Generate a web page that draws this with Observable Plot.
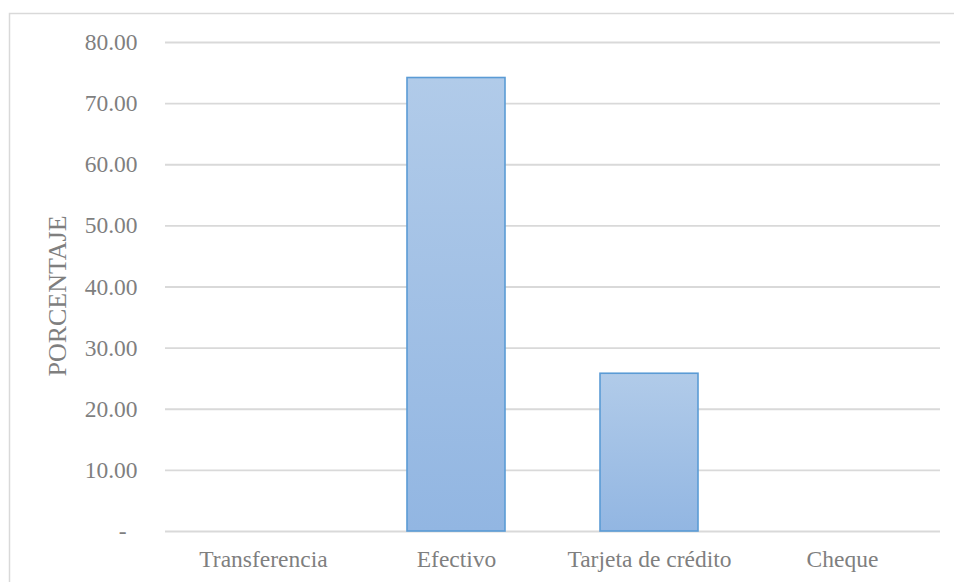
<!DOCTYPE html>
<html>
<head>
<meta charset="utf-8">
<script src="https://cdn.jsdelivr.net/npm/d3@7"></script>
<script src="https://cdn.jsdelivr.net/npm/@observablehq/plot@0.6"></script>
<style>
  html, body { margin: 0; padding: 0; background: #fff; }
  #chart { position: relative; width: 954px; height: 582px; overflow: hidden; }
</style>
</head>
<body>
<div id="chart"></div>
<script>
const categories = ["Transferencia", "Efectivo", "Tarjeta de crédito", "Cheque"];
const values = [0, 74.19, 25.81, 0];
const yTicks = [0, 10, 20, 30, 40, 50, 60, 70, 80];
const yLabel = "PORCENTAJE";

const data = categories.map((c, i) => ({category: c, value: values[i]}));
const textColor = "#7f7f7f";
const font = "'Liberation Serif', 'Times New Roman', serif";

const plot = Plot.plot({
  width: 954,
  height: 582,
  marginLeft: 165,
  marginRight: 14,
  marginTop: 42,
  marginBottom: 51,
  style: {fontFamily: font, fontSize: "23.5px", color: textColor, background: "#fff"},
  x: {domain: categories, paddingInner: 0.49, paddingOuter: 0.245, label: null},
  y: {domain: [0, 80], label: null},
  marks: [
    Plot.gridY(yTicks, {stroke: "#d9d9d9", strokeOpacity: 1, strokeWidth: 1.8}),
    Plot.barY(data.filter(d => d.value > 0), {
      x: "category", y: "value",
      fill: "url(#barGrad)", stroke: "#5b9bd5", strokeWidth: 1.6
    }),
    Plot.axisY(yTicks, {
      tickSize: 0, tickPadding: 28,
      tickFormat: d => d === 0 ? "-" : d.toFixed(2),
      fill: textColor, fontSize: 23.5
    }),
    Plot.axisX({tickSize: 0, tickPadding: 19, fill: textColor, fontSize: 23.5}),
    Plot.text([yLabel], {
      text: d => d, frameAnchor: "left", textAnchor: "middle",
      dx: -108, dy: 9, rotate: -90, fill: textColor, fontSize: 26, fontFamily: font
    })
  ]
});

const svg = d3.select(plot);
const defs = svg.insert("defs", ":first-child");
const grad = defs.append("linearGradient")
  .attr("id", "barGrad").attr("x1", 0).attr("y1", 0).attr("x2", 0).attr("y2", 1);
grad.append("stop").attr("offset", "0%").attr("stop-color", "#b1cbe9");
grad.append("stop").attr("offset", "100%").attr("stop-color", "#92b6e2");

// shift the zero dash like Excel's accounting format
svg.selectAll("text").filter(function() { return this.textContent === "-"; })
  .attr("dx", -11);

// chart area border
svg.append("rect")
  .attr("x", 9.5).attr("y", 13.5).attr("width", 960).attr("height", 600)
  .attr("fill", "none").attr("stroke", "#d9d9d9").attr("stroke-width", 1.5);

document.getElementById("chart").appendChild(plot);
</script>
</body>
</html>
